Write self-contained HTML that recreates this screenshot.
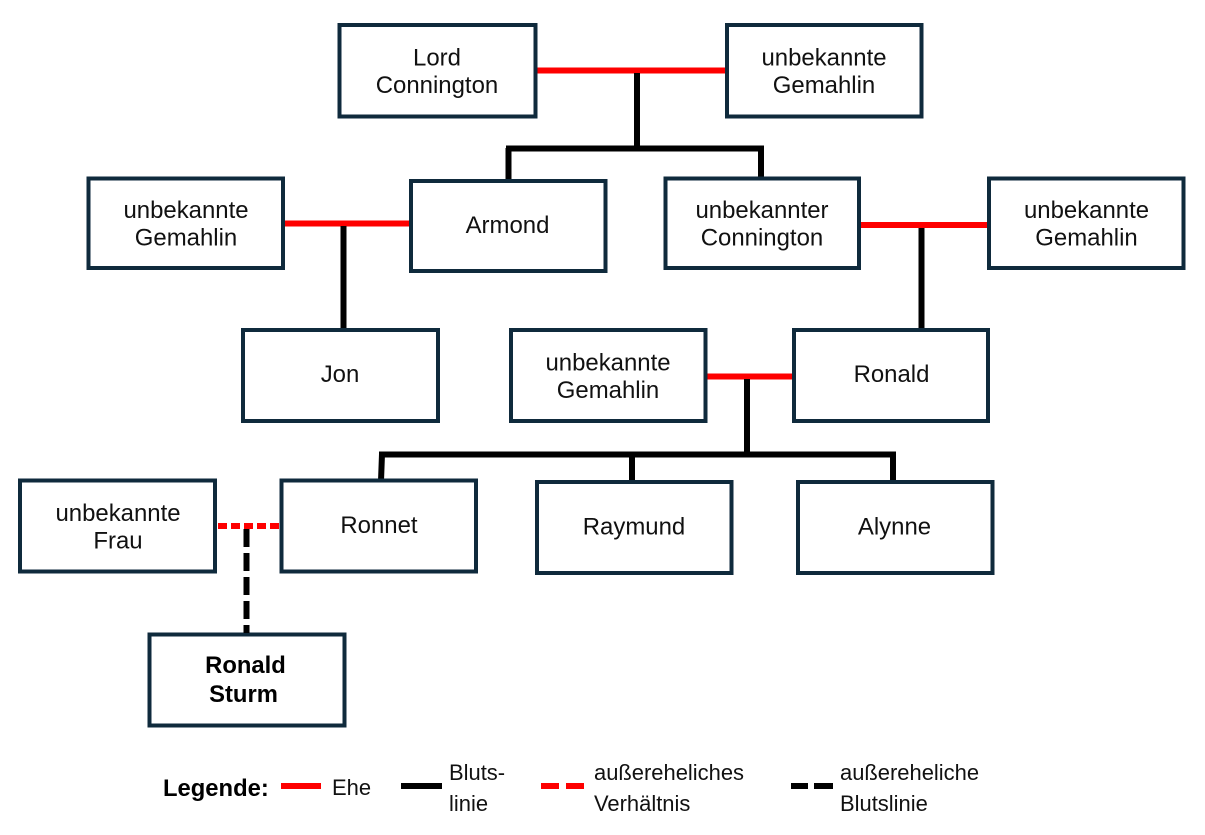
<!DOCTYPE html>
<html lang="de">
<head>
<meta charset="utf-8">
<title>Stammbaum Connington</title>
<style>
html,body{margin:0;padding:0;background:#fff;width:1205px;height:835px;overflow:hidden}
svg{display:block}
text{font-family:"Liberation Sans",Arial,sans-serif;fill:#111;text-anchor:middle;font-size:23.95px}
.b{font-weight:bold;fill:#000;font-size:23.8px}
.l{font-size:21.95px;text-anchor:start}
rect{fill:#fff;stroke:#0f2a3c;stroke-width:4}
.r{stroke:#fe0000;stroke-width:6;fill:none}
.k{stroke:#000;stroke-width:6;fill:none}
</style>
</head>
<body>
<svg width="1205" height="835" viewBox="0 0 1205 835" xmlns="http://www.w3.org/2000/svg">
<!-- connectors -->
<path class="r" d="M537 70.500H726"/>
<path class="k" d="M637 73V149"/>
<path class="k" d="M506 148.500H764M508.500 148V181M761 148V178"/>
<path class="r" d="M285 223.500H410"/>
<path class="k" d="M343.500 226V329"/>
<path class="r" d="M861 225H988"/>
<path class="k" d="M921.500 228V329"/>
<path class="r" d="M707 376.500H793"/>
<path class="k" d="M747 379V455"/>
<path class="k" d="M379 454.500H896M382 454L381 481M632 454V481M893 454V481"/>

<!-- boxes -->
<rect x="339.500" y="25" width="196" height="91.500"/>
<rect x="727" y="25" width="194.500" height="91.500"/>
<rect x="88.500" y="178.500" width="194.500" height="89.500"/>
<rect x="411" y="181" width="194.500" height="90"/>
<rect x="665.500" y="178.500" width="193.500" height="89.500"/>
<rect x="989" y="178.500" width="194.500" height="89.500"/>
<rect x="243" y="330" width="195" height="91"/>
<rect x="511" y="330" width="194.500" height="91"/>
<rect x="794" y="330" width="194" height="91"/>
<rect x="20" y="480.500" width="195" height="91"/>
<rect x="281.500" y="480.500" width="194.500" height="91"/>
<rect x="537" y="482" width="194.500" height="91"/>
<rect x="798" y="482" width="194.500" height="91"/>
<rect x="149.500" y="634.500" width="195" height="91"/>

<!-- dashed connectors -->
<path class="r" d="M218 526H279.500" stroke-dasharray="9 4"/>
<path class="k" d="M246.500 529V633" stroke-dasharray="18 6"/>

<!-- labels -->
<text x="437" y="65.500">Lord</text><text x="437" y="93">Connington</text>
<text x="824" y="65.500">unbekannte</text><text x="824" y="93">Gemahlin</text>
<text x="186" y="218">unbekannte</text><text x="186" y="245.500">Gemahlin</text>
<text x="507.500" y="233">Armond</text>
<text x="762" y="218">unbekannter</text><text x="762" y="245.500">Connington</text>
<text x="1086.500" y="218">unbekannte</text><text x="1086.500" y="245.500">Gemahlin</text>
<text x="340" y="382">Jon</text>
<text x="608" y="370.500">unbekannte</text><text x="608" y="398">Gemahlin</text>
<text x="891.500" y="382">Ronald</text>
<text x="118" y="521">unbekannte</text><text x="118" y="548.500">Frau</text>
<text x="379" y="533">Ronnet</text>
<text x="634" y="534.500">Raymund</text>
<text x="894.500" y="534.500">Alynne</text>
<text class="b" x="245.500" y="673">Ronald</text><text class="b" x="243.500" y="702">Sturm</text>

<!-- legend -->
<text class="b" x="163" y="796" style="text-anchor:start">Legende:</text>
<path class="r" d="M281 786H321"/>
<text class="l" x="332" y="795">Ehe</text>
<path class="k" d="M401 786H442"/>
<text class="l" x="449" y="780">Bluts-</text><text class="l" x="449" y="811">linie</text>
<path class="r" d="M541 786H559M566 786H584"/>
<text class="l" x="594" y="780">außereheliches</text><text class="l" x="594" y="811">Verhältnis</text>
<path class="k" d="M791 786H808M814 786H833"/>
<text class="l" x="840" y="780">außereheliche</text><text class="l" x="840" y="811">Blutslinie</text>
</svg>
</body>
</html>
